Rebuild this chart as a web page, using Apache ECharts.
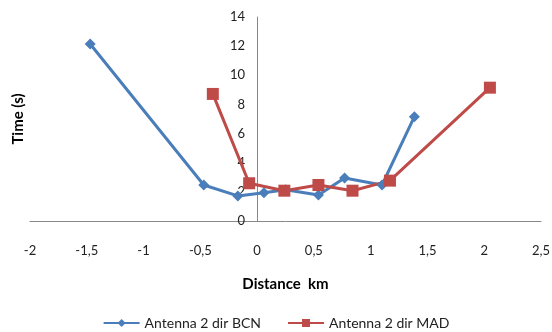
<!DOCTYPE html>
<html><head><meta charset="utf-8">
<script src="https://cdn.jsdelivr.net/npm/echarts@6/dist/echarts.min.js"></script>
<style>html,body{margin:0;padding:0;background:#fff}#c{width:552px;height:332px}</style>
</head><body><div id="c"></div>
<script>
const seriesNames = ['Antenna 2 dir BCN', 'Antenna 2 dir MAD'];
const bcnX = [-1.47, -0.47, -0.17, 0.06, 0.25, 0.54, 0.77, 1.10, 1.385];
const bcnY = [12.15, 2.47, 1.72, 1.94, 2.15, 1.78, 2.95, 2.47, 7.16];
const madX = [-0.39, -0.07, 0.24, 0.54, 0.84, 1.17, 2.05];
const madY = [8.72, 2.59, 2.08, 2.47, 2.08, 2.77, 9.15];
const xTicks = { min: -2, max: 2.5, interval: 0.5 };
const yTicks = { min: 0, max: 14, interval: 2 };
const xTitle = 'Distance  km';
const yTitle = 'Time (s)';

const font = 'Lato, "Liberation Sans", sans-serif';
const fmt = v => String(v).replace('.', ',');
const pairs = (xs, ys) => xs.map((x, i) => [x, ys[i]]);
const gridLeft = 30;

const chart = echarts.init(document.getElementById('c'), null, { renderer: 'canvas' });
const option = {
  animation: false,
  backgroundColor: '#fff',
  textStyle: { fontFamily: font },
  grid: { left: gridLeft, right: 11, top: 17, bottom: 111, containLabel: false, outerBoundsMode: 'none' },
  xAxis: {
    type: 'value', min: xTicks.min, max: xTicks.max, interval: xTicks.interval,
    name: xTitle, nameLocation: 'middle', nameGap: 56,
    nameTextStyle: { fontFamily: font, fontWeight: 'bold', fontSize: 15, color: '#000' },
    axisLine: { onZero: false, lineStyle: { color: '#888', width: 1 } },
    axisTick: { show: false },
    splitLine: { show: false },
    axisLabel: { formatter: fmt, margin: 23, fontSize: 13, color: '#222', fontFamily: font }
  },
  yAxis: {
    type: 'value', min: yTicks.min, max: yTicks.max, interval: yTicks.interval,
    position: 'left', offset: 0,
    name: yTitle, nameLocation: 'middle', nameGap: 231,
    nameTextStyle: { fontFamily: font, fontWeight: 'bold', fontSize: 15, color: '#000' },
    axisLine: { show: true, onZero: false, lineStyle: { color: '#888', width: 1 } },
    axisTick: { show: false },
    splitLine: { show: false },
    axisLabel: { margin: 12, fontSize: 13, color: '#222', fontFamily: font }
  },
  legend: {
    top: 311, left: 'center', itemGap: 26, itemWidth: 36, itemHeight: 10,
    textStyle: { fontFamily: font, fontSize: 14, color: '#222' },
    data: seriesNames
  },
  series: [
    {
      name: seriesNames[0], type: 'line', data: pairs(bcnX, bcnY),
      symbol: 'diamond', symbolSize: 11,
      lineStyle: { color: '#4A7EBB', width: 3 },
      itemStyle: { color: '#4A7EBB' }
    },
    {
      name: seriesNames[1], type: 'line', data: pairs(madX, madY),
      symbol: 'rect', symbolSize: 12,
      lineStyle: { color: '#BE4B48', width: 3 },
      itemStyle: { color: '#BE4B48' }
    }
  ]
};
chart.setOption(option);
// place the y axis at x = 0, as in the reference
const zeroPx = chart.convertToPixel({ xAxisIndex: 0 }, 0);
chart.setOption({ yAxis: { offset: -(zeroPx - gridLeft) } });
</script></body></html>
